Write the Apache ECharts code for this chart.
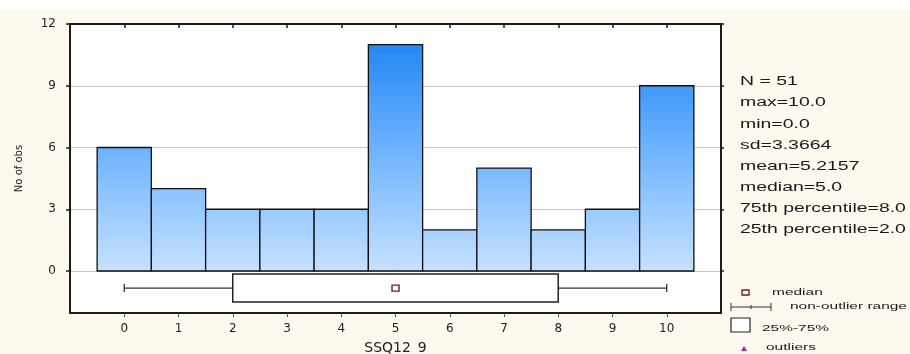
<!DOCTYPE html>
<html>
<head>
<meta charset="utf-8">
<script src="https://cdn.jsdelivr.net/npm/echarts@6/dist/echarts.min.js"></script>
<style>
  html, body { margin: 0; padding: 0; background: #ffffff; }
  #chart { width: 910px; height: 354px; }
</style>
</head>
<body>
<div id="chart"></div>
<script>
// Histogram of SSQ12_9 with a box plot summary underneath
const categories = [0, 1, 2, 3, 4, 5, 6, 7, 8, 9, 10];
const counts = [6, 4, 3, 3, 3, 11, 2, 5, 2, 3, 9];
// [min, 25th, median, 75th, max]
const boxSummary = [0, 2, 5, 8, 10];
const yTicks = [0, 3, 6, 9, 12];
const statLines = [
  'N = 51',
  'max=10.0',
  'min=0.0',
  'sd=3.3664',
  'mean=5.2157',
  'median=5.0',
  '75th percentile=8.0',
  '25th percentile=2.0'
];
const legendLabels = ['median', 'non-outlier range', '25%-75%', 'outliers'];

const chart = echarts.init(document.getElementById('chart'), null, { renderer: 'canvas' });

const FONT = '"DejaVu Sans", Verdana, sans-serif';
const AXIS_COLOR = '#1c1c1c';
const BOX_Y = -0.83;     // vertical centre of the box plot (in count units)
const BOX_HALF = 0.68;   // half-height of the box

const barFill = new echarts.graphic.LinearGradient(0, 24, 0, 271, [
  { offset: 0, color: '#1580f2' },
  { offset: 0.5, color: '#6db2ff' },
  { offset: 1, color: '#c6e1ff' }
], true);

const histData = categories.map((c, i) => [c, counts[i]]);

// horizontally stretched side-panel text
function wideText(x, y, text, size, stretch) {
  return {
    type: 'text', x: x, y: y, originX: 0, originY: 0, scaleX: stretch,
    style: { text: text, font: size + 'px Arial, "Liberation Sans", sans-serif', fill: '#1a1a1a',
      verticalAlign: 'middle' }
  };
}

const statGraphics = statLines.map((t, i) => wideText(740, 82 + i * 21.1, t, 12, 1.62));

const legendGraphics = [
  // median marker
  { type: 'rect', shape: { x: 742, y: 290, width: 7, height: 5 },
    style: { fill: '#fff', stroke: '#6b1d1d', lineWidth: 1.3 } },
  wideText(772, 293, legendLabels[0], 8.5, 1.82),
  // whisker marker
  { type: 'line', shape: { x1: 731, y1: 307, x2: 771, y2: 307 }, style: { stroke: '#333', lineWidth: 1 } },
  { type: 'line', shape: { x1: 731, y1: 303, x2: 731, y2: 311 }, style: { stroke: '#333', lineWidth: 1 } },
  { type: 'line', shape: { x1: 751, y1: 305, x2: 751, y2: 309 }, style: { stroke: '#333', lineWidth: 1 } },
  { type: 'line', shape: { x1: 771, y1: 303, x2: 771, y2: 311 }, style: { stroke: '#333', lineWidth: 1 } },
  wideText(790, 307, legendLabels[1], 8.5, 1.82),
  // box marker
  { type: 'rect', shape: { x: 731, y: 318, width: 19, height: 14 },
    style: { fill: '#fff', stroke: '#222', lineWidth: 1.2 } },
  wideText(762, 329, legendLabels[2], 8.5, 1.82),
  // outlier marker
  { type: 'polygon', shape: { points: [[741, 351], [747, 351], [744, 346]] },
    style: { fill: '#9b2a9b' } },
  wideText(766, 348, legendLabels[3], 8.5, 1.82)
];

const option = {
  backgroundColor: '#fdf9ef',
  animation: false,
  grid: {
    left: 70, right: 189, top: 24, bottom: 41,
    outerBoundsMode: 'none',
    containLabel: false,
    show: true, backgroundColor: '#ffffff', borderWidth: 0
  },
  xAxis: [
    {
      type: 'value', min: -1, max: 11, interval: 1, position: 'bottom',
      axisLine: { show: true, onZero: false, lineStyle: { color: AXIS_COLOR, width: 2 } },
      axisTick: { show: true, length: 4, inside: false, lineStyle: { color: '#555', width: 1 },
        customValues: categories },
      axisLabel: { customValues: categories, color: '#222', fontSize: 12, fontFamily: FONT, margin: 10 },
      splitLine: { show: false },
      name: 'SSQ12_9', nameLocation: 'middle', nameGap: 28,
      nameTextStyle: { color: '#222', fontSize: 14, fontFamily: FONT }
    },
    {
      type: 'value', min: -1, max: 11, interval: 1, position: 'top',
      axisLine: { show: true, onZero: false, lineStyle: { color: AXIS_COLOR, width: 2 } },
      axisTick: { show: true, length: 4, inside: true, lineStyle: { color: AXIS_COLOR, width: 1.5 },
        customValues: categories },
      axisLabel: { show: false },
      splitLine: { show: false }
    }
  ],
  yAxis: [
    {
      type: 'value', min: -2.04, max: 12, position: 'left',
      axisLine: { show: true, onZero: false, lineStyle: { color: AXIS_COLOR, width: 2 } },
      axisTick: { show: true, length: 4, lineStyle: { color: AXIS_COLOR, width: 1.5 }, customValues: yTicks },
      axisLabel: { customValues: yTicks, color: '#222', fontSize: 12, fontFamily: FONT, margin: 14 },
      splitLine: { show: true, lineStyle: { color: '#c8c8c8', width: 1 } },
      name: 'No of obs', nameLocation: 'middle', nameGap: 46, nameRotate: 90,
      nameTextStyle: { color: '#222', fontSize: 10, fontFamily: FONT }
    },
    {
      type: 'value', min: -2.04, max: 12, position: 'right',
      axisLine: { show: true, onZero: false, lineStyle: { color: AXIS_COLOR, width: 2 } },
      axisTick: { show: true, length: 3, lineStyle: { color: AXIS_COLOR, width: 1.5 }, customValues: yTicks },
      axisLabel: { show: false },
      splitLine: { show: false }
    }
  ],
  series: [
    {
      type: 'custom',
      name: 'histogram',
      xAxisIndex: 0, yAxisIndex: 0,
      data: histData,
      renderItem: function (params, api) {
        const x = api.value(0), v = api.value(1);
        const p0 = api.coord([x - 0.5, 0]);
        const p1 = api.coord([x + 0.5, v]);
        return {
          type: 'rect',
          shape: { x: p0[0], y: p1[1], width: p1[0] - p0[0], height: p0[1] - p1[1] },
          style: { fill: barFill, stroke: '#111', lineWidth: 1.3 }
        };
      }
    },
    {
      type: 'custom',
      name: 'box',
      xAxisIndex: 0, yAxisIndex: 0,
      data: [boxSummary],
      renderItem: function (params, api) {
        const mn = api.value(0), q1 = api.value(1), md = api.value(2), q3 = api.value(3), mx = api.value(4);
        const pMin = api.coord([mn, BOX_Y]);
        const pMax = api.coord([mx, BOX_Y]);
        const pQ1t = api.coord([q1, BOX_Y + BOX_HALF]);
        const pQ3b = api.coord([q3, BOX_Y - BOX_HALF]);
        const pMed = api.coord([md, BOX_Y]);
        const lineStyle = { stroke: '#333', lineWidth: 1.3 };
        return {
          type: 'group',
          children: [
            { type: 'line', shape: { x1: pMin[0], y1: pMin[1], x2: pQ1t[0], y2: pMin[1] }, style: lineStyle },
            { type: 'line', shape: { x1: pQ3b[0], y1: pMax[1], x2: pMax[0], y2: pMax[1] }, style: lineStyle },
            { type: 'line', shape: { x1: pMin[0], y1: pMin[1] - 4, x2: pMin[0], y2: pMin[1] + 4 }, style: lineStyle },
            { type: 'line', shape: { x1: pMax[0], y1: pMax[1] - 4, x2: pMax[0], y2: pMax[1] + 4 }, style: lineStyle },
            { type: 'rect',
              shape: { x: pQ1t[0], y: pQ1t[1], width: pQ3b[0] - pQ1t[0], height: pQ3b[1] - pQ1t[1] },
              style: { fill: '#fff', stroke: '#222', lineWidth: 1.5 } },
            { type: 'rect', shape: { x: pMed[0] - 3.5, y: pMed[1] - 3, width: 7, height: 6 },
              style: { fill: '#fff', stroke: '#6b1d1d', lineWidth: 1.4 } }
          ]
        };
      }
    }
  ],
  graphic: [
    { type: 'rect', x: 0, y: 0, shape: { width: 910, height: 10 }, style: { fill: '#ffffff' }, z: -1 }
  ].concat(statGraphics, legendGraphics)
};

chart.setOption(option);
</script>
</body>
</html>
